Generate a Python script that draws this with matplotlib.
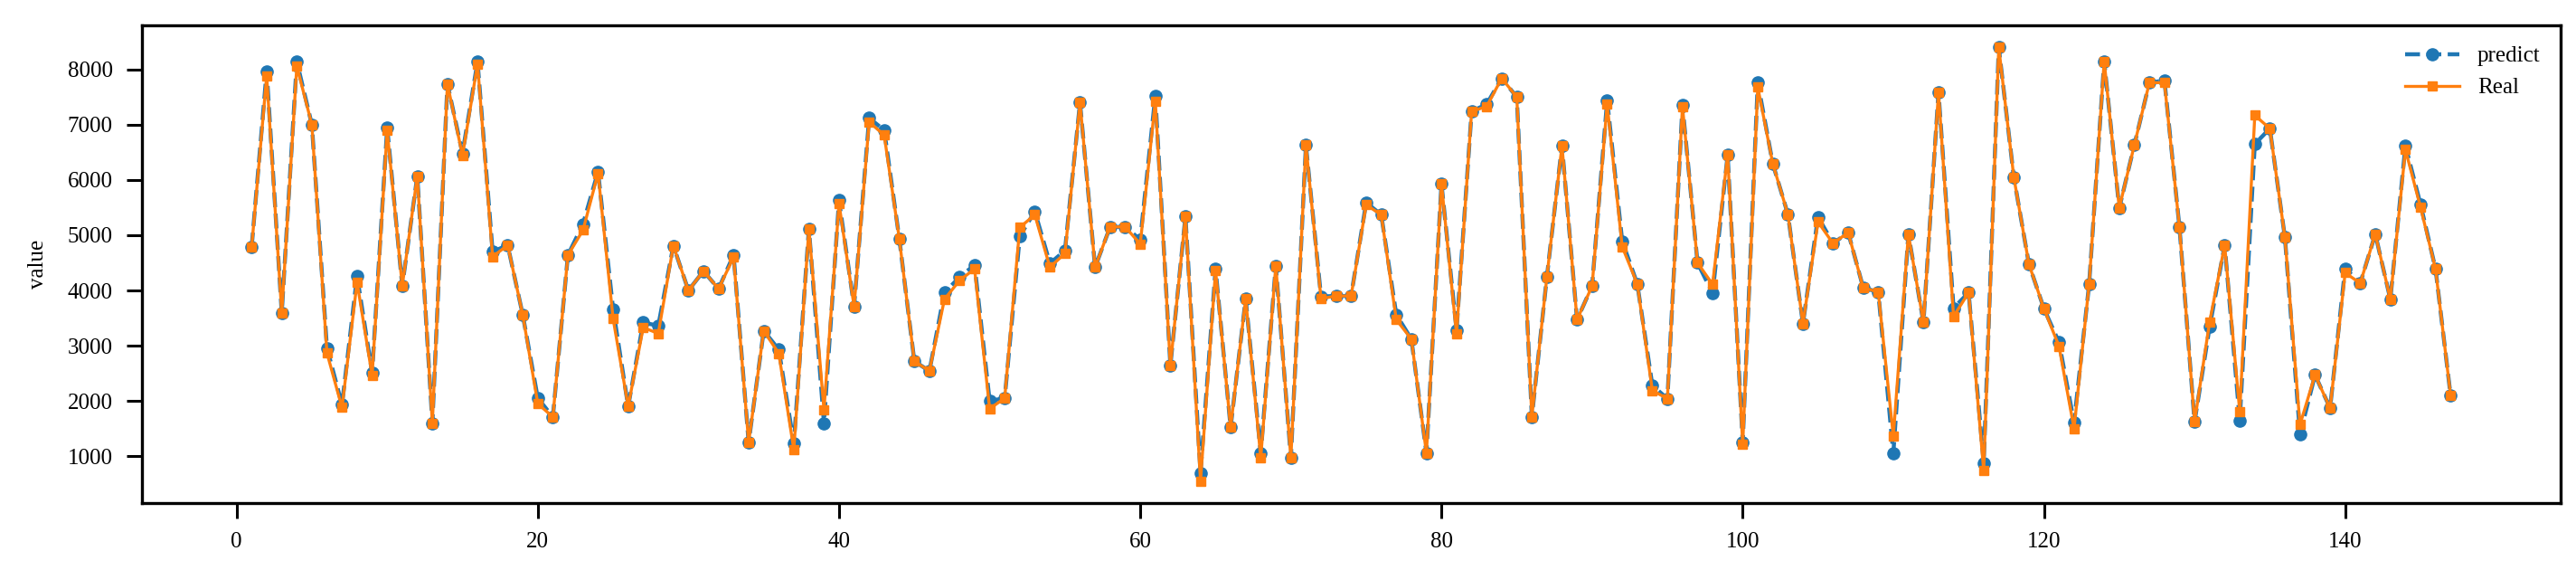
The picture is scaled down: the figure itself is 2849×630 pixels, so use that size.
#Predict vs real line chart

#Import libraries
import numpy as np
import matplotlib.pyplot as plt

#Data
predict = [4780, 7970, 3590, 8140, 7000, 2960, 1930, 4260, 2510, 6950,
           4080, 6070, 1600, 7740, 6480, 8140, 4700, 4820, 3560, 2050,
           1710, 4640, 5200, 6150, 3660, 1900, 3420, 3360, 4810, 4000,
           4350, 4030, 4640, 1250, 3270, 2930, 1230, 5120, 1600, 5630,
           3710, 7120, 6900, 4940, 2720, 2540, 3960, 4240, 4460, 2000,
           2050, 4980, 5430, 4490, 4720, 7400, 4420, 5150, 5150, 4920,
           7520, 2640, 5340, 700, 4390, 1520, 3850, 1050, 4450, 970,
           6630, 3890, 3900, 3900, 5590, 5370, 3560, 3120, 1060, 5930,
           3280, 7240, 7370, 7840, 7500, 1710, 4250, 6620, 3470, 4080,
           7440, 4890, 4120, 2280, 2040, 7350, 4500, 3950, 6450, 1250,
           7760, 6290, 5380, 3400, 5330, 4850, 5050, 4050, 3970, 1050,
           5020, 3420, 7590, 3680, 3960, 880, 8400, 6050, 4480, 3670,
           3060, 1610, 4110, 8150, 5490, 6630, 7760, 7800, 5140, 1620,
           3340, 4820, 1650, 6650, 6930, 4960, 1400, 2470, 1870, 4400,
           4130, 5020, 3840, 6620, 5560, 4390, 2100]
real = [4780, 7880, 3590, 8060, 7000, 2870, 1880, 4150, 2460, 6900,
        4080, 6070, 1600, 7740, 6440, 8100, 4610, 4820, 3560, 1950,
        1710, 4640, 5090, 6120, 3490, 1900, 3330, 3220, 4810, 4000,
        4350, 4030, 4600, 1250, 3270, 2860, 1120, 5120, 1840, 5570,
        3710, 7050, 6810, 4940, 2720, 2540, 3840, 4180, 4390, 1860,
        2050, 5140, 5370, 4420, 4670, 7400, 4420, 5150, 5150, 4840,
        7430, 2640, 5340, 550, 4360, 1520, 3850, 970, 4450, 970,
        6630, 3850, 3900, 3900, 5550, 5370, 3470, 3120, 1060, 5930,
        3210, 7240, 7330, 7840, 7500, 1710, 4250, 6620, 3470, 4080,
        7370, 4790, 4120, 2190, 2040, 7330, 4500, 4110, 6450, 1210,
        7680, 6290, 5380, 3400, 5240, 4850, 5050, 4050, 3970, 1360,
        5020, 3420, 7590, 3530, 3960, 740, 8400, 6050, 4480, 3670,
        2990, 1500, 4110, 8150, 5490, 6630, 7760, 7760, 5140, 1620,
        3430, 4820, 1810, 7170, 6930, 4960, 1570, 2470, 1870, 4320,
        4130, 5020, 3840, 6550, 5510, 4390, 2100]
x = np.arange(1, len(predict) + 1)

plt.rcParams['font.family'] = ['Liberation Serif', 'DejaVu Serif']
plt.rcParams['font.size'] = 18

#Plotting
fig, ax = plt.subplots(figsize=(28.49, 6.3), dpi=100)
fig.subplots_adjust(left=0.055, right=0.994, top=0.955, bottom=0.118)

ax.plot(x, predict, color='#1f77b4', linestyle='--', linewidth=3.2,
        marker='o', markersize=9.5, label='predict')
ax.plot(x, real, color='#ff7f0e', linestyle='-', linewidth=2.4,
        marker='s', markersize=6.5, label='Real')

ax.set_ylabel('value', labelpad=16)
ax.set_yticks([1000, 2000, 3000, 4000, 5000, 6000, 7000, 8000])
ax.tick_params(axis='both', length=12, width=2.2, pad=11, labelsize=18)
for s in ax.spines.values():
    s.set_linewidth(2.4)

ax.legend(loc='upper right', frameon=False, fontsize=18, handlelength=2.4)

plt.savefig('out.png', dpi=100)
